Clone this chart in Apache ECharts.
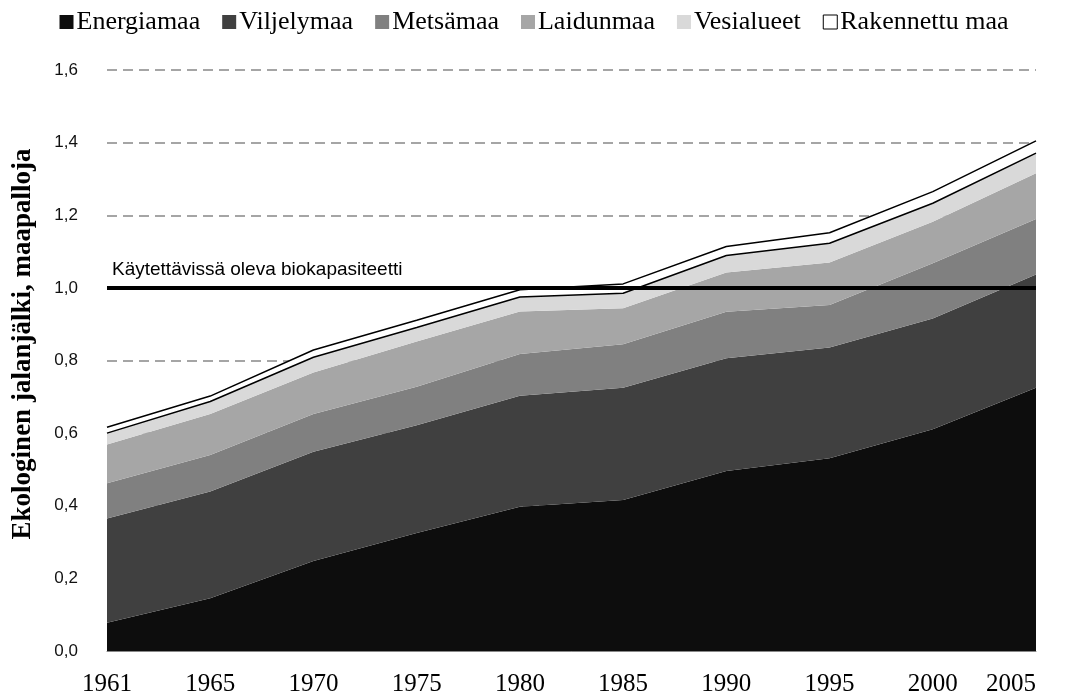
<!DOCTYPE html>
<html>
<head>
<meta charset="utf-8">
<script src="https://cdn.jsdelivr.net/npm/echarts@6/dist/echarts.min.js"></script>
<style>
  html, body { margin: 0; padding: 0; background: #fff; }
  #chart { width: 1068px; height: 697px; }
</style>
</head>
<body>
<div id="chart"></div>
<script>
// ---- Data ----
const years = ['1961', '1965', '1970', '1975', '1980', '1985', '1990', '1995', '2000', '2005'];
const energiamaa = [0.078, 0.145, 0.248, 0.325, 0.397, 0.416, 0.496, 0.531, 0.611, 0.725];
const viljelymaa = [0.287, 0.294, 0.301, 0.297, 0.306, 0.309, 0.310, 0.305, 0.305, 0.312];
const metsamaa   = [0.097, 0.101, 0.104, 0.106, 0.115, 0.120, 0.128, 0.117, 0.152, 0.153];
const laidunmaa  = [0.107, 0.113, 0.114, 0.124, 0.117, 0.099, 0.108, 0.117, 0.114, 0.126];
const vesialueet = [0.031, 0.034, 0.042, 0.039, 0.040, 0.041, 0.047, 0.053, 0.051, 0.055];
const rakennettu = [0.016, 0.015, 0.020, 0.020, 0.020, 0.026, 0.025, 0.029, 0.032, 0.034];
const seriesNames = ['Energiamaa', 'Viljelymaa', 'Metsämaa', 'Laidunmaa', 'Vesialueet', 'Rakennettu maa'];
const biokapasiteetti = 1.0;
const biokapasiteettiLabel = 'Käytettävissä oleva biokapasiteetti';
const yAxisTitle = 'Ekologinen jalanjälki, maapalloja';
const yMin = 0, yMax = 1.6, yInterval = 0.2;

// ---- Styles ----
const fills = ['#0d0d0d', '#404040', '#808080', '#a6a6a6', '#d9d9d9', '#ffffff'];
const values = [energiamaa, viljelymaa, metsamaa, laidunmaa, vesialueet, rakennettu];

const series = values.map((arr, i) => {
  const s = {
    name: seriesNames[i],
    type: 'line',
    stack: 'total',
    data: arr,
    showSymbol: false,
    symbol: 'none',
    silent: true,
    itemStyle: { color: fills[i] },
    areaStyle: { color: fills[i], opacity: 1 },
    lineStyle: { width: 0, color: fills[i] },
    z: 2
  };
  if (i === 4) {
    s.lineStyle = { width: 1.5, color: '#000' };
    s.z = 4;
  }
  if (i === 5) {
    s.lineStyle = { width: 1.5, color: '#000' };
    s.z = 3;
  }
  return s;
});

// Reference line (available biocapacity)
series.push({
  name: 'bio',
  type: 'line',
  data: [],
  silent: true,
  z: 6,
  markLine: {
    silent: true,
    symbol: ['none', 'none'],
    animation: false,
    lineStyle: { color: '#000', width: 4, type: 'solid' },
    label: {
      show: true,
      position: 'insideStartTop',
      formatter: biokapasiteettiLabel,
      fontFamily: 'Liberation Sans, Arial, sans-serif',
      fontSize: 19,
      color: '#000',
      distance: [5, 9]
    },
    emphasis: { disabled: true },
    data: [{ yAxis: biokapasiteetti }]
  }
});

const chart = echarts.init(document.getElementById('chart'), null, { renderer: 'canvas' });
chart.setOption({
  animation: false,
  backgroundColor: '#fff',
  grid: { left: 107, right: 32, top: 70, bottom: 46, containLabel: false },
  legend: {
    top: 4,
    left: 'center',
    icon: 'rect',
    itemWidth: 14,
    itemHeight: 14,
    itemGap: 22,
    selectedMode: false,
    textStyle: { fontFamily: 'Liberation Serif, Times New Roman, serif', fontSize: 26, color: '#000', padding: [0, 0, 0, -2] },
    data: seriesNames.map((n, i) => ({
      name: n,
      itemStyle: i === 5 ? { color: '#fff', borderColor: '#000', borderWidth: 1 } : { color: fills[i] }
    }))
  },
  xAxis: {
    type: 'category',
    data: years,
    boundaryGap: false,
    axisLine: { show: true, lineStyle: { color: '#888', width: 1 } },
    axisTick: { show: false },
    axisLabel: {
      margin: 21,
      fontFamily: 'Liberation Serif, Times New Roman, serif',
      fontSize: 25,
      color: '#000',
      alignMaxLabel: 'right'
    },
    splitLine: { show: false }
  },
  yAxis: {
    type: 'value',
    min: yMin,
    max: yMax,
    interval: yInterval,
    axisLine: { show: false },
    axisTick: { show: false },
    axisLabel: {
      margin: 29,
      fontFamily: 'Liberation Sans, Arial, sans-serif',
      fontSize: 17,
      color: '#111',
      formatter: v => v.toFixed(1).replace('.', ',')
    },
    splitLine: { show: true, lineStyle: { color: '#888', width: 1.5, type: [10, 6] } }
  },
  graphic: [{
    type: 'text',
    rotation: Math.PI / 2,
    x: 23,
    y: 344,
    style: {
      text: yAxisTitle,
      fontFamily: 'Liberation Serif, Times New Roman, serif',
      fontWeight: 'bold',
      fontSize: 27,
      fill: '#000',
      textAlign: 'center',
      textVerticalAlign: 'middle'
    }
  }],
  series: series
});
</script>
</body>
</html>
